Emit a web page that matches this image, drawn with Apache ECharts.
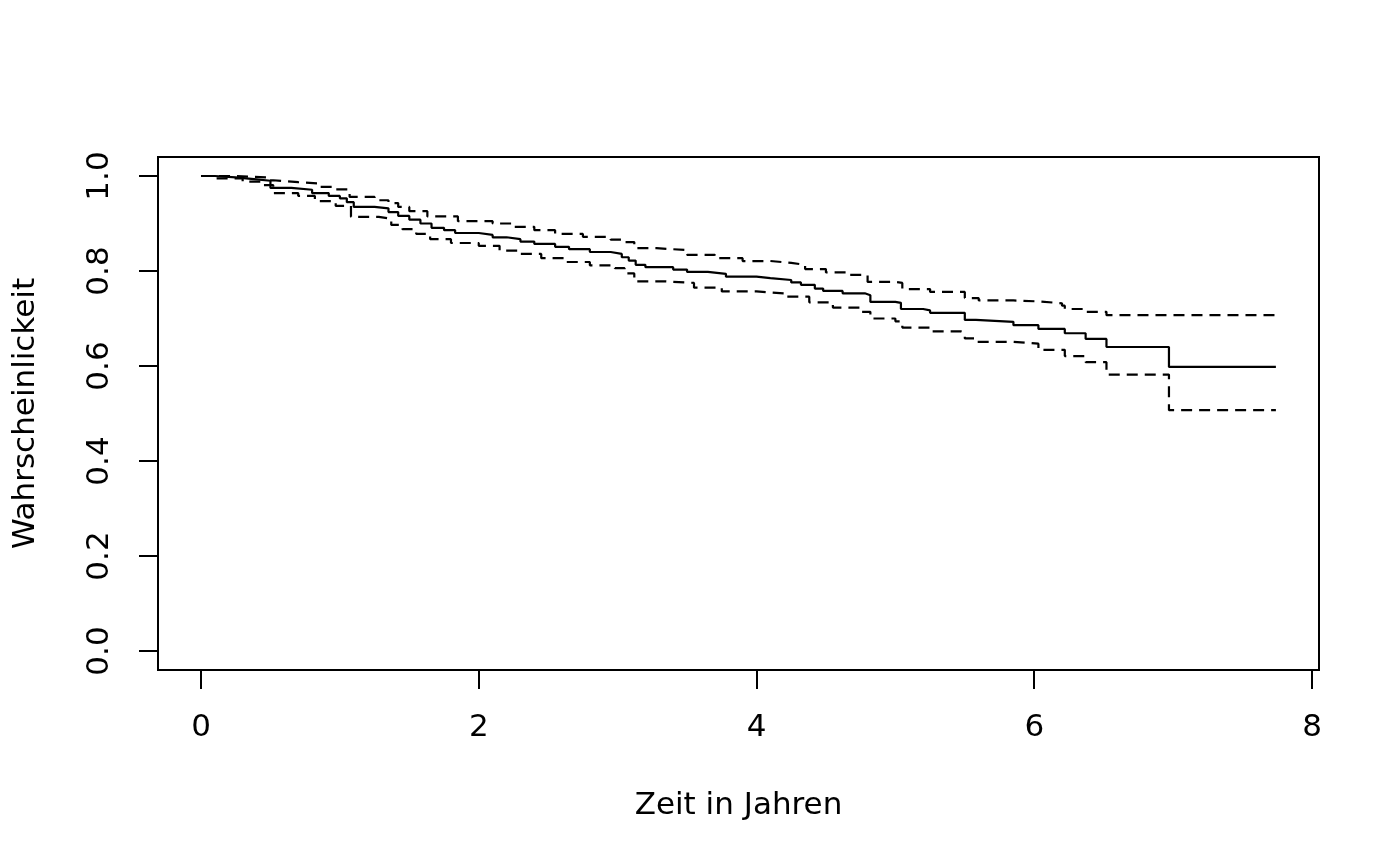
<!DOCTYPE html>
<html>
<head>
<meta charset="utf-8">
<script src="https://cdn.jsdelivr.net/npm/echarts@6/dist/echarts.min.js"></script>
<style>
html,body{margin:0;padding:0;background:#fff;}
#chart{width:1400px;height:866px;}
</style>
</head>
<body>
<div id="chart"></div>
<script>
const survTime = [0,0.10,0.25,0.40,0.50,0.65,0.80,0.92,1.00,1.05,1.10,1.25,1.35,1.42,1.50,1.58,1.66,1.75,1.83,2.00,2.10,2.20,2.30,2.40,2.55,2.65,2.80,2.95,3.03,3.08,3.13,3.20,3.40,3.50,3.65,3.78,4.00,4.10,4.25,4.32,4.42,4.48,4.62,4.78,4.82,5.00,5.04,5.20,5.25,5.50,5.58,5.85,6.03,6.22,6.37,6.52,6.97,7.74];
const survValue = [1.000,0.997,0.993,0.990,0.975,0.971,0.964,0.958,0.953,0.945,0.935,0.932,0.924,0.916,0.908,0.900,0.891,0.886,0.880,0.876,0.871,0.867,0.862,0.857,0.851,0.846,0.840,0.836,0.829,0.822,0.813,0.808,0.803,0.798,0.794,0.788,0.785,0.781,0.776,0.771,0.763,0.758,0.753,0.749,0.735,0.733,0.720,0.717,0.712,0.697,0.693,0.686,0.678,0.669,0.657,0.640,0.598,0.598];

const upperTime = [0,0.25,0.47,0.52,0.70,0.85,0.95,1.07,1.25,1.35,1.42,1.50,1.63,1.85,2.10,2.25,2.40,2.55,2.75,2.95,3.05,3.12,3.28,3.50,3.70,3.90,4.10,4.25,4.35,4.50,4.65,4.80,5.00,5.05,5.25,5.50,5.60,5.85,6.03,6.20,6.22,6.37,6.52,7.74];
const upperValue = [1.000,0.997,0.991,0.987,0.984,0.977,0.972,0.956,0.949,0.943,0.935,0.926,0.915,0.905,0.900,0.893,0.886,0.878,0.872,0.866,0.861,0.848,0.844,0.834,0.827,0.821,0.817,0.813,0.804,0.797,0.792,0.777,0.775,0.762,0.756,0.743,0.738,0.736,0.732,0.727,0.720,0.714,0.707,0.707];

const lowerTime = [0,0.08,0.30,0.45,0.52,0.70,0.82,0.97,1.08,1.28,1.37,1.45,1.55,1.65,1.80,2.00,2.15,2.30,2.45,2.62,2.80,2.98,3.05,3.12,3.35,3.55,3.75,4.00,4.20,4.38,4.55,4.75,4.82,5.00,5.05,5.25,5.47,5.50,5.58,5.85,6.03,6.22,6.37,6.52,6.97,7.74];
const lowerValue = [1.000,0.995,0.988,0.981,0.964,0.958,0.947,0.937,0.914,0.910,0.897,0.888,0.878,0.867,0.859,0.853,0.843,0.836,0.827,0.819,0.812,0.806,0.795,0.778,0.775,0.765,0.757,0.753,0.746,0.734,0.723,0.714,0.700,0.694,0.681,0.673,0.669,0.658,0.651,0.647,0.634,0.621,0.608,0.582,0.507,0.507];

const xTicks = [0,2,4,6,8];
const yTicks = [0,0.2,0.4,0.6,0.8,1.0];

const zip = (t, v) => t.map((x, i) => [x, v[i]]);
const FONT = 'DejaVu Sans';

const chart = echarts.init(document.getElementById('chart'), null, {renderer: 'canvas'});
chart.setOption({
  animation: false,
  backgroundColor: '#fff',
  textStyle: {fontFamily: FONT, color: '#000'},
  grid: {
    left: 158, right: 81, top: 157, bottom: 196,
    show: true, borderColor: '#000', borderWidth: 2, backgroundColor: 'transparent'
  },
  xAxis: {
    type: 'value', min: -0.3096, max: 8.0504,
    axisLine: {show: false, onZero: false},
    splitLine: {show: false},
    axisTick: {show: true, inside: false, customValues: xTicks, length: 19, lineStyle: {color: '#000', width: 2}},
    axisLabel: {customValues: xTicks, margin: 42, fontSize: 31, fontFamily: FONT, color: '#000'},
    name: 'Zeit in Jahren', nameLocation: 'middle', nameGap: 120,
    nameTextStyle: {fontSize: 31, fontFamily: FONT, color: '#000'}
  },
  yAxis: {
    type: 'value', min: -0.04, max: 1.04,
    axisLine: {show: false, onZero: false},
    splitLine: {show: false},
    axisTick: {show: true, inside: false, customValues: yTicks, length: 19, lineStyle: {color: '#000', width: 2}},
    axisLabel: {customValues: yTicks, rotate: 90, margin: 43, fontSize: 31, fontFamily: FONT, color: '#000',
      formatter: v => v.toFixed(1)},
    name: 'Wahrscheinlickeit', nameLocation: 'middle', nameGap: 117,
    nameTextStyle: {fontSize: 31, fontFamily: FONT, color: '#000'}
  },
  series: [
    {type: 'line', step: 'end', symbol: 'none', data: zip(survTime, survValue),
      lineStyle: {color: '#000', width: 2.2}},
    {type: 'line', step: 'end', symbol: 'none', data: zip(upperTime, upperValue),
      lineStyle: {color: '#000', width: 2.2, type: [11, 7]}},
    {type: 'line', step: 'end', symbol: 'none', data: zip(lowerTime, lowerValue),
      lineStyle: {color: '#000', width: 2.2, type: [11, 7]}}
  ]
});
</script>
</body>
</html>
